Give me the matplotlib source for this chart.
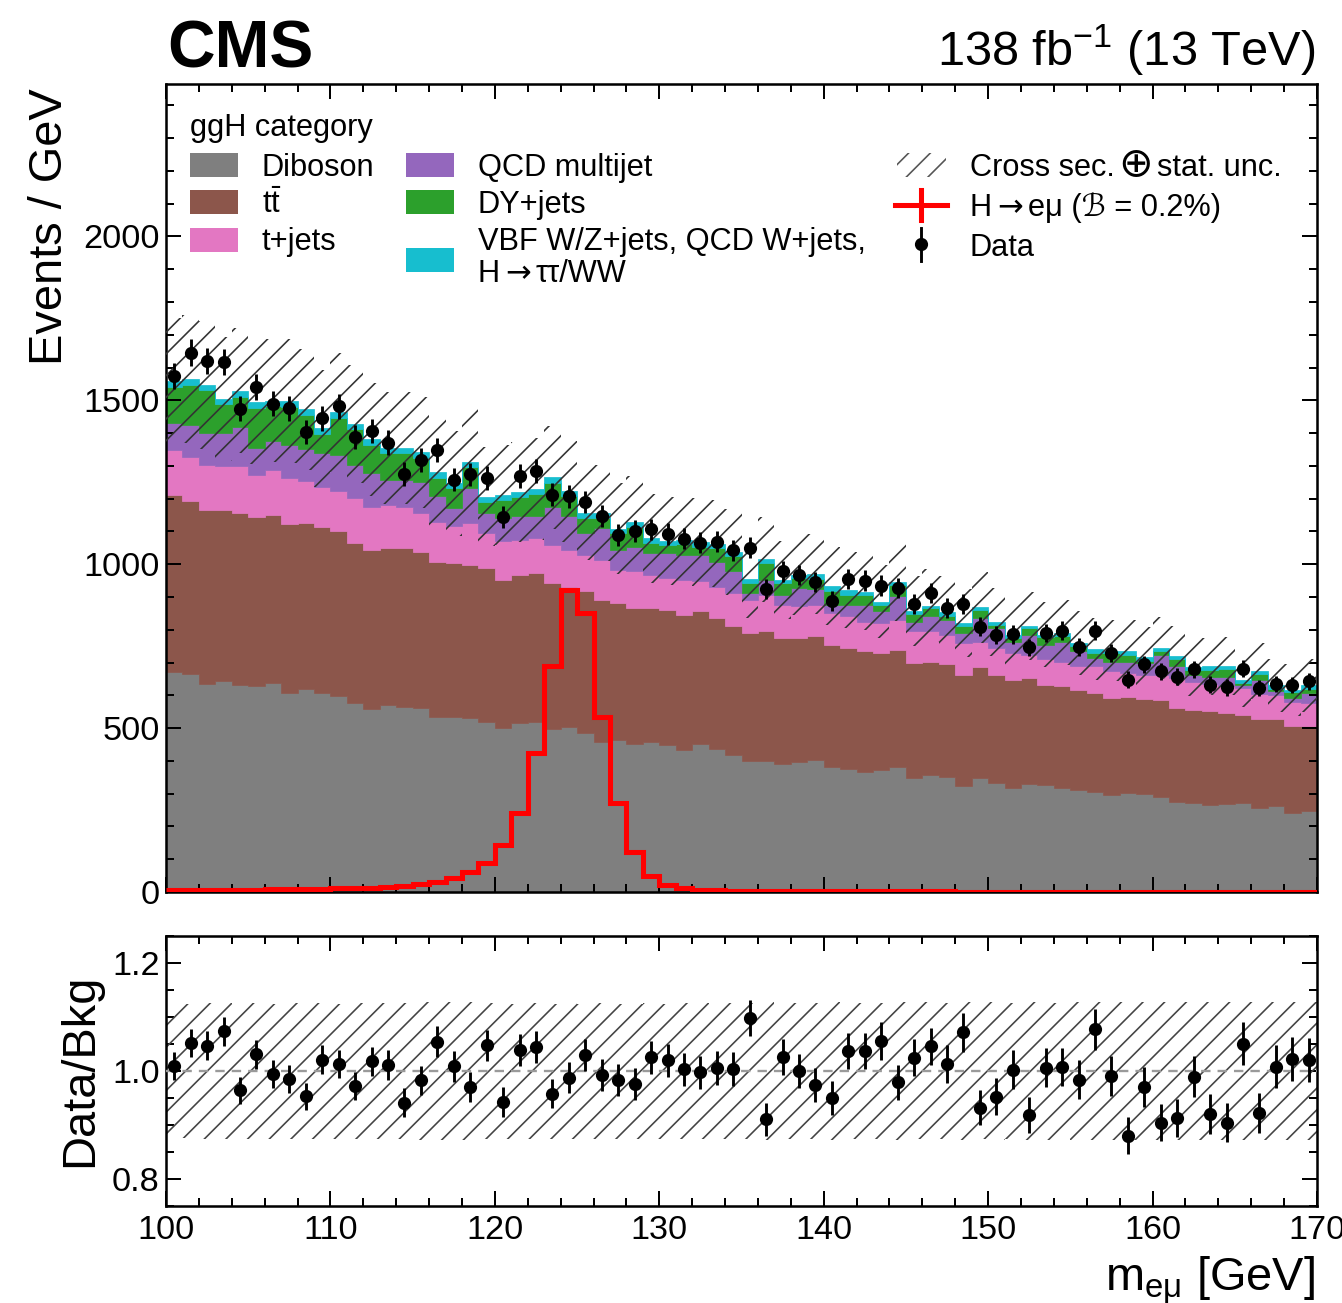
import numpy as np
import matplotlib
matplotlib.use("Agg")
import matplotlib.pyplot as plt
from matplotlib.patches import Rectangle
from matplotlib.lines import Line2D
from matplotlib.ticker import MultipleLocator, FormatStrFormatter

# ---------------- data (events per 1 GeV bin, 100-170 GeV) ----------------
bin_lo, bin_hi = 100, 170

diboson = [672, 665, 634, 644, 632, 627, 637, 608, 618, 608, 599, 577, 557, 569, 563, 560, 535, 535,
           530, 520, 500, 515, 520, 497, 503, 484, 459, 464, 452, 459, 449, 434, 452, 437, 418, 400,
           400, 392, 398, 403, 382, 374, 367, 372, 380, 347, 357, 352, 324, 347, 332, 316, 329,
           327, 317, 311, 306, 296, 301, 300, 291, 276, 273, 266, 268, 270, 255, 262, 240, 247]
ttbar = [540, 527, 532, 520, 524, 517, 514, 516, 508, 505, 501, 489, 487, 480, 486, 476, 473, 468,
         468, 468, 453, 453, 453, 445, 429, 433, 432, 417, 414, 407, 412, 412, 404, 399, 392, 390,
         395, 383, 377, 377, 372, 370, 367, 357, 357, 351, 346, 344, 338, 339, 330, 331, 323,
         305, 312, 306, 301, 295, 293, 288, 295, 285, 281, 285, 278, 270, 272, 266, 265, 259]
tjets = [135, 135, 138, 135, 143, 129, 137, 139, 127, 124, 122, 136, 130, 132, 127, 120, 120, 114,
         128, 107, 117, 107, 107, 118, 112, 112, 123, 102, 112, 102, 97, 107, 92, 96, 102, 101,
         112, 101, 96, 96, 97, 97, 91, 91, 93, 97, 92, 89, 97, 78, 82, 82, 70,
         78, 74, 73, 81, 82, 74, 74, 76, 91, 88, 84, 81, 82, 77, 73, 76, 70]
qcd = [85, 98, 97, 102, 120, 82, 87, 102, 97, 102, 112, 102, 104, 77, 82, 96, 79, 55,
       106, 61, 71, 73, 68, 116, 104, 66, 96, 61, 76, 66, 76, 76, 81, 76, 66, 21,
       46, 31, 56, 49, 25, 35, 51, 36, 72, 30, 46, 45, 31, 72, 61, 35, 63,
       44, 61, 44, 25, 30, 35, 36, 62, 36, 20, 22, 30, 10, 43, 11, 10, 31]
dy = [110, 122, 129, 87, 92, 123, 107, 115, 105, 59, 112, 107, 86, 81, 80, 73, 57, 60,
      65, 33, 55, 57, 66, 72, 59, 46, 31, 50, 59, 31, 24, 32, 25, 41, 47, 30,
      50, 35, 31, 30, 41, 29, 29, 20, 35, 24, 25, 11, 23, 25, 10, 11, 20,
      24, 18, 16, 15, 25, 19, 8, 11, 22, 16, 21, 23, 6, 18, 8, 19, 13]
other = [18, 18, 17, 17, 18, 17, 17, 18, 17, 17, 17, 17, 17, 17, 16, 16, 16, 15,
         16, 17, 16, 16, 16, 17, 15, 15, 15, 14, 15, 14, 14, 14, 14, 14, 13, 14,
         12, 11, 10, 15, 17, 15, 11, 10, 10, 8, 7, 14, 7, 7, 9, 9, 7,
         7, 9, 10, 12, 8, 14, 10, 9, 10, 9, 10, 10, 10, 10, 10, 7, 10]
data = [1574, 1645, 1620, 1616, 1475, 1541, 1490, 1476, 1403, 1445, 1482, 1388, 1406, 1371, 1275, 1318, 1349, 1258,
        1274, 1263, 1143, 1269, 1285, 1212, 1207, 1190, 1148, 1090, 1101, 1106, 1093, 1078, 1066, 1069, 1042, 1050,
        924, 978, 968, 945, 887, 954, 950, 935, 927, 878, 913, 866, 879, 809, 785, 786, 746,
        790, 797, 748, 797, 729, 648, 695, 673, 657, 680, 633, 624, 681, 622, 635, 631, 643]
signal = [5, 5, 6, 6, 7, 7, 8, 8, 9, 10, 11, 12, 13, 15,
          18, 24, 31, 42, 62, 88, 143, 240, 425, 690, 920, 851, 535, 271, 123, 49, 21, 11,
          7, 5, 4, 3, 3, 3, 2, 2, 2, 2, 2, 2, 2, 2, 2, 2,
          1, 1, 1, 1, 1, 1, 1, 1, 1, 1, 1, 1, 1, 1, 1, 1, 1, 1, 1, 1, 1, 1]
rel_unc = [0.122, 0.124, 0.126, 0.126, 0.125, 0.126, 0.125, 0.126, 0.125, 0.126,
           0.125, 0.126, 0.125, 0.126, 0.126, 0.127, 0.128, 0.128, 0.127, 0.126,
           0.126, 0.125, 0.126, 0.125, 0.126, 0.125, 0.126, 0.125, 0.125, 0.126,
           0.125, 0.126, 0.126, 0.125, 0.126, 0.126, 0.127, 0.125, 0.126, 0.126,
           0.127, 0.126, 0.126, 0.126, 0.127, 0.126, 0.127, 0.126, 0.127, 0.126,
           0.127, 0.126, 0.127, 0.127, 0.126, 0.127, 0.128, 0.127, 0.127, 0.128,
           0.127, 0.127, 0.128, 0.127, 0.128, 0.128, 0.127, 0.128, 0.128, 0.128]

labels = ["Diboson", r"$\mathrm{t\bar{t}}$", "t+jets", "QCD multijet", "DY+jets",
          "VBF W/Z+jets, QCD W+jets,"]
colors = ["#7f7f7f", "#8c564b", "#e377c2", "#9467bd", "#2ca02c", "#17becf"]
xticks_lab = [100, 110, 120, 130, 140, 150, 160, 170]

# ---------------- style ----------------
plt.rcParams["font.family"] = ["Liberation Sans", "DejaVu Sans"]
plt.rcParams["mathtext.fontset"] = "custom"
plt.rcParams["mathtext.rm"] = "Liberation Sans"
plt.rcParams["mathtext.it"] = "Liberation Sans:italic"
plt.rcParams["mathtext.bf"] = "Liberation Sans:bold"
plt.rcParams["hatch.linewidth"] = 0.9

DPI = 130
W, H = 1342, 1303
fig = plt.figure(figsize=(W / DPI, H / DPI), dpi=DPI)


def fx(px):
    return px / W


def fy(py):
    return 1 - py / H


ax = fig.add_axes([fx(166), fy(892), fx(1317) - fx(166), fy(84) - fy(892)])
rax = fig.add_axes([fx(166), fy(1206), fx(1317) - fx(166), fy(936) - fy(1206)])

edges = np.arange(bin_lo, bin_hi + 1)
centers = edges[:-1] + 0.5

# stacked backgrounds
base = np.zeros(len(diboson))
for comp, col in zip([diboson, ttbar, tjets, qcd, dy, other], colors):
    top = base + np.asarray(comp, float)
    ax.stairs(top, edges, baseline=base, fill=True, facecolor=col, edgecolor=col, lw=0.4)
    base = top
total = base
unc = np.asarray(rel_unc)
dat = np.asarray(data, float)

# signal
ax.stairs(signal, edges, baseline=None, color="#ff0000", lw=2.8, zorder=3)

# uncertainty band
ax.stairs(total * (1 + unc), edges, baseline=total * (1 - unc), fill=True,
          facecolor="none", edgecolor="#333333", hatch="//", lw=0, zorder=4)

# data
ax.errorbar(centers, dat, yerr=np.sqrt(dat), fmt="o", color="black", ms=6.3,
            elinewidth=1.6, capsize=0, zorder=5)

# ratio
rax.stairs(1 + unc, edges, baseline=1 - unc, fill=True, facecolor="none",
           edgecolor="#444444", hatch="//", lw=0, zorder=2)
rax.axhline(1.0, color="#9a9a9a", ls=(0, (4, 3)), lw=1.3, zorder=3)
rax.errorbar(centers, dat / total, yerr=np.sqrt(dat) / total, fmt="o", color="black",
             ms=6.3, elinewidth=1.6, capsize=0, zorder=5)

for a in (ax, rax):
    a.set_xlim(bin_lo, bin_hi)
    a.xaxis.set_major_locator(MultipleLocator(10))
    a.xaxis.set_minor_locator(MultipleLocator(2))
    a.tick_params(which="both", direction="in", top=True, right=True, labelsize=19, width=1.1)
    a.tick_params(which="major", length=8.5)
    a.tick_params(which="minor", length=4.5)
    for s in a.spines.values():
        s.set_linewidth(1.4)

ax.set_ylim(0, 2465)
ax.yaxis.set_major_locator(MultipleLocator(500))
ax.yaxis.set_minor_locator(MultipleLocator(100))
ax.tick_params(labelbottom=False)

rax.set_ylim(0.75, 1.25)
rax.yaxis.set_major_locator(MultipleLocator(0.2))
rax.yaxis.set_minor_locator(MultipleLocator(0.05))
rax.yaxis.set_major_formatter(FormatStrFormatter("%.1f"))
rax.set_xticks(xticks_lab)
rax.set_xticklabels([str(v) for v in xticks_lab])
rax.tick_params(axis="x", pad=5)

# ---------------- overlay (text, legend) in pixel coordinates ----------------
oax = fig.add_axes([0, 0, 1, 1])
oax.set_xlim(0, W)
oax.set_ylim(H, 0)
oax.axis("off")
renderer = fig.canvas.get_renderer()


def seg_text(x, y, segments):
    """Draw consecutive pieces of one label; each piece = (text, family, size, gap_after)."""
    for s, fam, size, gap in segments:
        t = oax.text(x, y, s, fontsize=size, family=fam, va="baseline", ha="left")
        x += t.get_window_extent(renderer).width + gap


oax.text(167, 68, "CMS", fontsize=36.5, fontweight="bold", ha="left", va="baseline")
oax.text(1315, 66, r"138 fb$^{-1}$ (13 TeV)", fontsize=27, ha="right", va="baseline")
oax.text(50, 88, "Events / GeV", fontsize=26, rotation=90, ha="center", va="top")
oax.text(80, 1070, "Data/Bkg", fontsize=26, rotation=90, ha="center", va="center")
oax.text(1315, 1290, r"$\mathrm{m}_{\mathrm{e\mu}}$ [GeV]", fontsize=26, ha="right", va="baseline")

LFS = 17
LIB = ["Liberation Sans", "DejaVu Sans"]
DJV = ["DejaVu Sans"]
oax.text(190, 136, "ggH category", fontsize=LFS, va="baseline")
col_x = [190, 190, 190, 406, 406, 406]
box_y = [153, 190, 228, 153, 190, 248]
txt_y = [176, 213, 250, 176, 213, 250]
for i, (lab, col) in enumerate(zip(labels, colors)):
    oax.add_patch(Rectangle((col_x[i], box_y[i]), 48, 24, facecolor=col, edgecolor="none"))
    oax.text(col_x[i] + 72, txt_y[i], lab, fontsize=LFS, va="baseline")
seg_text(478, 282, [("H", LIB, LFS, 5), ("\u2192", DJV, LFS, 5), ("\u03c4\u03c4/WW", LIB, LFS, 0)])

oax.add_patch(Rectangle((897, 153), 49, 24, facecolor="none", edgecolor="#555555",
                        hatch="//", lw=0))
seg_text(970, 176, [("Cross sec.", LIB, LFS, 4), ("\u2295", DJV, LFS * 1.35, 4),
                    ("stat. unc.", LIB, LFS, 0)])
oax.add_line(Line2D([895, 947], [205, 205], color="#ff0000", lw=2.8))
oax.add_line(Line2D([921, 921], [190, 220], color="#ff0000", lw=2.8))
seg_text(970, 216, [("H", LIB, LFS, 5), ("\u2192", DJV, LFS, 5),
                    ("e\u03bc (\u212c = 0.2%)", LIB, LFS, 0)])
oax.add_line(Line2D([921, 921], [228, 261], color="black", lw=1.6))
oax.plot([921], [244], "o", color="black", ms=6.3)
oax.text(970, 256, "Data", fontsize=LFS, va="baseline")

fig.savefig("out.png", dpi=DPI)
